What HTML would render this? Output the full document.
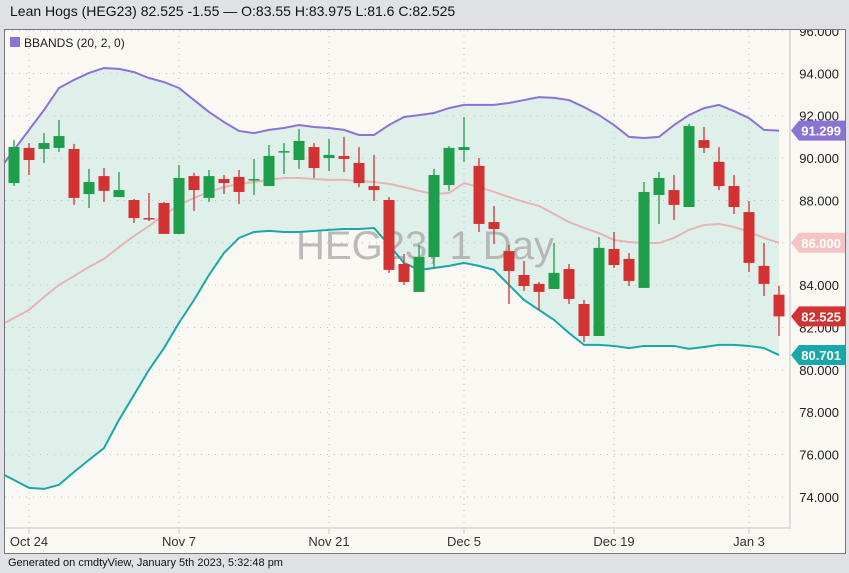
<!DOCTYPE html>
<html><head><meta charset="utf-8"><style>
body{margin:0;width:849px;height:573px;background:#dfe1e4;overflow:hidden;font-family:"Liberation Sans",sans-serif;position:relative}
#title{position:absolute;left:10px;top:3px;font-size:14px;color:#111}
#foot{position:absolute;left:8px;top:557px;font-size:11px;color:#111}
svg{position:absolute;left:0;top:0}
</style></head><body>
<div id="title">Lean Hogs (HEG23) 82.525 -1.55 — O:83.55 H:83.975 L:81.6 C:82.525</div>
<div id="foot">Generated on cmdtyView, January 5th 2023, 5:32:48 pm</div>
<svg id="chart" width="849" height="573"></svg>
<script>
const dateLabels=["Oct 24","Nov 7","Nov 21","Dec 5","Dec 19","Jan 3"];
const dateIdx=[1,11,21,30,40,49];
const yTicks=[74,76,78,80,82,84,86,88,90,92,94,96];
const opens=[88.82,90.48,90.43,90.48,90.43,88.30,89.15,88.16,88.02,87.17,87.88,86.42,89.15,88.12,89.01,89.11,88.97,88.68,90.29,89.91,90.52,90.00,90.10,89.77,88.68,88.02,85.00,83.68,85.33,88.73,90.38,89.63,86.98,85.61,84.48,84.06,83.82,84.76,83.11,81.60,85.71,85.24,83.87,88.26,88.49,87.69,90.85,89.82,88.68,87.45,84.91,83.55];
const highs=[90.85,90.71,91.18,91.80,90.67,89.49,89.53,89.34,88.07,88.35,87.93,89.67,89.30,89.44,89.20,89.44,89.96,90.62,90.71,91.37,90.71,90.90,91.00,90.52,90.15,88.16,85.47,85.90,89.49,90.57,91.94,90.00,87.74,85.90,85.14,84.15,85.99,85.00,83.30,86.27,86.51,85.52,88.87,89.34,89.20,91.61,91.47,90.52,89.20,87.97,85.99,83.975];
const lows=[88.68,89.20,89.77,90.29,87.79,87.64,87.93,88.16,86.94,87.03,86.42,86.42,87.50,87.93,88.30,87.83,88.26,88.68,89.25,89.49,89.06,89.39,89.34,88.63,87.97,84.58,84.01,83.68,84.81,88.45,89.82,86.51,85.94,83.11,83.73,82.83,83.82,83.11,81.32,81.60,84.81,83.96,83.87,86.89,87.08,87.69,90.24,88.49,87.36,84.62,83.49,81.6];
const closes=[90.52,89.91,90.71,91.04,88.12,88.87,88.45,88.49,87.17,87.12,86.42,89.06,88.49,89.15,88.82,88.40,89.01,90.10,90.33,90.81,89.53,90.15,89.96,88.82,88.49,84.72,84.15,85.33,89.20,90.48,90.52,86.89,86.65,84.67,83.96,83.68,84.58,83.35,81.60,85.76,84.95,84.20,88.40,89.06,87.79,91.51,90.48,88.68,87.69,85.05,84.06,82.525];
const upper=[90.38,91.33,92.27,93.31,93.69,94.02,94.25,94.21,94.06,93.78,93.59,93.31,92.74,92.18,91.70,91.28,91.18,91.33,91.42,91.56,91.47,91.42,91.33,91.09,91.09,91.56,91.94,92.03,92.13,92.36,92.51,92.51,92.51,92.60,92.74,92.88,92.84,92.74,92.41,92.03,91.56,91.00,90.95,91.00,91.56,92.03,92.36,92.51,92.22,91.89,91.33,91.299];
const middle=[82.45,82.83,83.44,84.01,84.43,84.86,85.24,85.80,86.32,86.79,87.31,87.78,88.12,88.40,88.63,88.78,88.87,88.97,89.06,89.06,89.01,88.97,88.97,88.92,88.87,88.78,88.63,88.45,88.30,88.35,88.82,88.63,88.40,88.16,87.93,87.74,87.36,86.98,86.70,86.46,86.13,86.04,85.99,85.99,86.23,86.61,86.84,86.89,86.75,86.51,86.23,86.00];
const lower=[74.80,74.43,74.38,74.57,75.18,75.75,76.31,77.64,78.82,80.00,81.03,82.22,83.30,84.48,85.52,86.23,86.51,86.56,86.51,86.51,86.56,86.61,86.65,86.65,86.70,85.90,85.05,84.72,84.81,84.91,85.05,84.91,84.72,84.01,83.30,82.83,82.36,81.74,81.18,81.18,81.13,81.03,81.13,81.13,81.13,80.99,81.08,81.18,81.18,81.13,81.03,80.701];

const NS="http://www.w3.org/2000/svg";
const svg=document.getElementById('chart');
const X0=14,DX=15;
const xs=i=>X0+i*DX;
const ys=v=>31+(96-v)*21.18;
function el(tag,attrs,parent){const e=document.createElementNS(NS,tag);for(const k in attrs)e.setAttribute(k,attrs[k]);(parent||svg).appendChild(e);return e;}
const panel=el('rect',{x:4.5,y:29.5,width:841,height:524,fill:'#faf8f2',stroke:'#777'});


const clip=el('clipPath',{id:'pc'});el('rect',{x:5,y:30,width:785,height:497},clip);
const clip2=el('clipPath',{id:'pc2'});el('rect',{x:5,y:30,width:840,height:523},clip2);
const axg=el('g',{'clip-path':'url(#pc2)'});
const g=el('g',{'clip-path':'url(#pc)'});


// bands fill first
function pts(arr){const p=arr.map((v,i)=>[xs(i),ys(v)]);const s=(p[1][1]-p[0][1]);p.unshift([0,p[0][1]-s*(14/15)]);return p;}
const up=pts(upper),mid=pts(middle),lo=pts(lower);
const fill=el('polygon',{points:up.concat(lo.slice().reverse()).map(p=>p.join(',')).join(' '),fill:'#dff0ea'},g);


// grid
yTicks.forEach(v=>{
  const l=el('line',{x1:5,x2:790,y1:ys(v),y2:ys(v),stroke:'#c4c4c4','stroke-dasharray':'1 6'},g);
  
  
  const t=el('text',{x:839,y:ys(v)+5,'text-anchor':'end','font-size':'13',fill:'#222','font-family':'Liberation Sans, sans-serif'},axg);
  t.textContent=v.toFixed(3);
  
  
});
dateIdx.forEach((d,k)=>{
  const l=el('line',{x1:xs(d),x2:xs(d),y1:30,y2:527,stroke:'#c4c4c4','stroke-dasharray':'1 5'},g);
  
  
  el('line',{x1:xs(d),x2:xs(d),y1:528,y2:534,stroke:'#c8c8c8'});
  const t=el('text',{x:xs(d),y:546,'text-anchor':'middle','font-size':'13',fill:'#333','font-family':'Liberation Sans, sans-serif'});
  t.textContent=dateLabels[k];
  
  
});
el('line',{x1:790,x2:790,y1:30,y2:529,stroke:'#ddd','stroke-width':2});
el('line',{x1:5,x2:790,y1:528,y2:528,stroke:'#ddd','stroke-width':2});
const wm=el('text',{x:425,y:259,'text-anchor':'middle','font-size':'40',fill:'#aaaaaa','fill-opacity':'0.8','font-family':'Liberation Sans, sans-serif'},g);
wm.textContent='HEG23, 1 Day';


[[up,'#8b73d6','upper-band'],[mid,'#e8b4b4','middle-band'],[lo,'#1aa7aa','lower-band']].forEach(([p,c,n])=>{
  const l=el('polyline',{points:p.map(q=>q.join(',')).join(' '),fill:'none',stroke:c,'stroke-width':2},g);
  
  
});
opens.forEach((o,i)=>{
  const c=closes[i],upc=c>=o,col=upc?'#1e9d4b':'#d33232';
  const cg=el('g',{},g);
  
  
  el('line',{x1:xs(i),x2:xs(i),y1:ys(highs[i]),y2:ys(lows[i]),stroke:col,'stroke-width':1.3},cg);
  const t=ys(Math.max(o,c)),b=ys(Math.min(o,c));
  el('rect',{x:xs(i)-5.5,y:t,width:11,height:Math.max(b-t,1.5),fill:col},cg);
});
function tag(v,bg,fg,name){
  const y=ys(v);const tg=el('g',{});
  
  
  el('polygon',{points:`791,${y} 799,${y-10} 845,${y-10} 845,${y+10} 799,${y+10}`,fill:bg},tg);
  const t=el('text',{x:841,y:y+5,'text-anchor':'end','font-size':'13','font-weight':'bold',fill:fg,'font-family':'Liberation Sans, sans-serif'},tg);
  t.textContent=v.toFixed(3);
}
tag(upper[upper.length-1],'#8b73d6','#fff','upper-band-value');
tag(middle[middle.length-1],'#f6c4c4','#fff','middle-band-value');
tag(closes[closes.length-1],'#d33232','#fff','last-price-value');
tag(lower[lower.length-1],'#1aa7aa','#fff','lower-band-value');
const lg=el('g',{});


el('rect',{x:10,y:37,width:10,height:10,fill:'#8b73d6'},lg);
const lt=el('text',{x:24,y:47,'font-size':'12',fill:'#222','font-family':'Liberation Sans, sans-serif'},lg);
lt.textContent='BBANDS (20, 2, 0)';
</script>
</body></html>
